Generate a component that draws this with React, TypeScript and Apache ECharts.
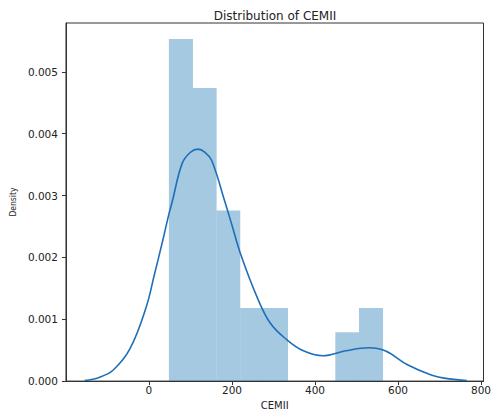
import { useEffect, useRef } from "react";
import * as echarts from "echarts";

// Histogram (density)
const binEdges = [48, 106, 163, 220, 277, 335, 392, 449, 506, 564];
const binDensity = [0.00553, 0.00474, 0.00276, 0.00118, 0.00118, 0, 0, 0.00079, 0.00118];

// KDE curve points
const kdeX = [-155, -120, -86, -46, -7, 13, 32, 48, 56, 80, 100, 118, 135, 151, 182, 200, 222, 261, 293, 332, 372, 419, 474, 530, 569, 624, 680, 719, 766];
const kdeY = [0.00001, 0.00006, 0.00018, 0.00052, 0.00119, 0.00172, 0.00224, 0.0027, 0.0029, 0.00352, 0.0037, 0.00375, 0.0037, 0.00357, 0.00292, 0.00252, 0.00203, 0.00135, 0.00093, 0.00067, 0.00049, 0.00041, 0.00049, 0.00054, 0.00049, 0.00026, 0.0001, 0.00004, 0.00001];

const xTicks = [0, 200, 400, 600, 800];
const yTicks = [0, 0.001, 0.002, 0.003, 0.004, 0.005];

const titleText = "Distribution of CEMII";
const xName = "CEMII";
const yName = "Density";

export default function App() {
  const ref = useRef<HTMLDivElement>(null);
  useEffect(() => {
    const chart = echarts.init(ref.current!, null, { renderer: "svg" });
    const histData = binDensity.map((d, i) => [binEdges[i], binEdges[i + 1], d]);
    const kdeData = kdeX.map((x, i) => [x, kdeY[i]]);
    const font = "'DejaVu Sans', sans-serif";
    chart.setOption({
      animation: false,
      backgroundColor: "#ffffff",
      title: {
        text: titleText,
        left: 275,
        top: 10,
        padding: 0,
        textAlign: "center",
        textStyle: { fontFamily: font, fontSize: 12, fontWeight: "normal", color: "#222" },
      },
      grid: {
        left: 62,
        right: 7,
        top: 23,
        bottom: 22,
        show: true,
        borderColor: "#333",
        borderWidth: 1,
        backgroundColor: "transparent",
      },
      xAxis: {
        type: "value",
        min: -200,
        max: 806,
        name: xName,
        nameLocation: "middle",
        nameGap: 15,
        nameTextStyle: { fontFamily: font, fontSize: 10, color: "#222" },
        axisLine: { show: true, onZero: false, lineStyle: { color: "#333", width: 1 } },
        axisTick: { show: true, length: 4, customValues: xTicks, lineStyle: { color: "#333" } },
        axisLabel: {
          customValues: xTicks,
          fontFamily: font,
          fontSize: 10.5,
          color: "#222",
          margin: 3,
        },
        splitLine: { show: false },
      },
      yAxis: {
        type: "value",
        min: 0,
        max: 0.00579,
        name: yName,
        nameLocation: "middle",
        nameRotate: 90,
        nameGap: 47,
        nameTextStyle: {
          fontFamily: "'DejaVu Sans Condensed', 'Liberation Sans Narrow', 'DejaVu Sans', sans-serif",
          fontSize: 8.5,
          color: "#222",
        },
        axisLine: { show: true, onZero: false, lineStyle: { color: "#333", width: 1 } },
        axisTick: { show: true, length: 4, customValues: yTicks, lineStyle: { color: "#333" } },
        axisLabel: {
          customValues: yTicks,
          formatter: (v: number) => v.toFixed(3),
          fontFamily: font,
          fontSize: 10.5,
          color: "#222",
          margin: 8,
        },
        splitLine: { show: false },
      },
      series: [
        {
          type: "custom",
          data: histData,
          encode: { x: [0, 1], y: 2 },
          z: 1,
          renderItem: (params: any, api: any) => {
            const p0 = api.coord([api.value(0), api.value(2)]);
            const p1 = api.coord([api.value(1), 0]);
            return {
              type: "rect",
              shape: { x: p0[0], y: p0[1], width: p1[0] - p0[0], height: p1[1] - p0[1] },
              style: { fill: "rgba(31,119,180,0.4)" },
            };
          },
        },
        {
          type: "line",
          data: kdeData,
          z: 2,
          smooth: 0.4,
          symbol: "none",
          lineStyle: { color: "#1f6fb8", width: 1.6 },
        },
      ],
    });
    return () => chart.dispose();
  }, []);
  return <div ref={ref} style={{ position: "fixed", left: 0, top: 0, width: 494, height: 415 }} />;
}
